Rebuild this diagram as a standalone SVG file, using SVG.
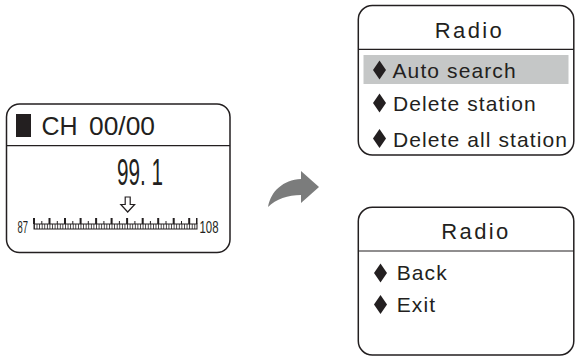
<svg xmlns="http://www.w3.org/2000/svg" width="575" height="357" viewBox="0 0 575 357">
  <style>
    .frame { fill: #ffffff; stroke: #231f20; stroke-width: 1.5; }
    .rule { stroke: #231f20; stroke-width: 1.2; }
    .txt { font-family: "Liberation Sans", Arial, sans-serif; fill: #231f20; }
    .item { font-size: 21px; letter-spacing: 1.1px; }
    .title { font-size: 22px; letter-spacing: 2.4px; text-anchor: middle; }
    .bullet { fill: #231f20; }
  </style>
  <defs>
    <path id="diamond" d="M0,-9.5 L6.5,0 L0,9.5 L-6.5,0 Z"/>
  </defs>

  <!-- FM tuning screen -->
  <g id="tuner-screen">
    <rect class="frame" x="6.5" y="104" width="223.5" height="148.5" rx="13"/>
    <line class="rule" x1="6.5" y1="145.7" x2="230" y2="145.7"/>
    <rect class="bullet" x="16" y="114" width="15" height="23"/>
    <text class="txt" x="41.5" y="135" font-size="25">CH</text>
    <text class="txt" x="89" y="135" font-size="26" textLength="66" lengthAdjust="spacingAndGlyphs">00/00</text>
    <text class="txt" x="117" y="185" font-size="36" textLength="46" lengthAdjust="spacingAndGlyphs">99. 1</text>
    <!-- hollow pointer arrow -->
    <path d="M125.2,197 L130.2,197 L130.2,204.5 L134.6,204.5 L127.7,212 L120.8,204.5 L125.2,204.5 Z" fill="#ffffff" stroke="#231f20" stroke-width="1.2"/>
    <text class="txt" x="17.5" y="232.8" font-size="16.5" textLength="10.5" lengthAdjust="spacingAndGlyphs">87</text>
    <text class="txt" x="199.5" y="232.8" font-size="16.5" textLength="19" lengthAdjust="spacingAndGlyphs">108</text>
    <!-- frequency scale -->
    <g id="scale">
      <rect x="34" y="224" width="163" height="5" fill="none" stroke="#231f20" stroke-width="1"/>
      <line x1="34" y1="226.5" x2="197" y2="226.5" stroke="#231f20" stroke-width="5" stroke-dasharray="0.8 1.787"/>
      <g fill="#231f20">
        <rect x="33" y="218" width="2" height="6"/>
        <rect x="48.5" y="218" width="2" height="6"/>
        <rect x="64" y="218" width="2" height="6"/>
        <rect x="79.6" y="218" width="2" height="6"/>
        <rect x="95.1" y="218" width="2" height="6"/>
        <rect x="110.6" y="218" width="2" height="6"/>
        <rect x="126.1" y="218" width="2" height="6"/>
        <rect x="141.7" y="218" width="2" height="6"/>
        <rect x="157.2" y="218" width="2" height="6"/>
        <rect x="172.7" y="218" width="2" height="6"/>
        <rect x="188.2" y="218" width="2" height="6"/>
        <rect x="196" y="218" width="1.5" height="6"/>
      </g>
      <g stroke="#231f20" stroke-width="1">
        <line x1="41.8" y1="221" x2="41.8" y2="224"/>
        <line x1="57.3" y1="221" x2="57.3" y2="224"/>
        <line x1="72.8" y1="221" x2="72.8" y2="224"/>
        <line x1="88.3" y1="221" x2="88.3" y2="224"/>
        <line x1="103.9" y1="221" x2="103.9" y2="224"/>
        <line x1="119.4" y1="221" x2="119.4" y2="224"/>
        <line x1="134.9" y1="221" x2="134.9" y2="224"/>
        <line x1="150.4" y1="221" x2="150.4" y2="224"/>
        <line x1="166" y1="221" x2="166" y2="224"/>
        <line x1="181.5" y1="221" x2="181.5" y2="224"/>
      </g>
    </g>
  </g>

  <!-- curved transition arrow -->
  <g id="connectors">
    <path d="M268,207 C271,191 283,180 301,179 L301,171 L319,187 L301,203 L301,195 C288,195 276,199 268,207 Z" fill="#7b7c7c"/>
  </g>

  <!-- Radio menu, page 1 -->
  <g id="radio-menu">
    <rect class="frame" x="358.3" y="5.5" width="215.5" height="149.5" rx="14"/>
    <line class="rule" x1="358.3" y1="49.3" x2="573.8" y2="49.3"/>
    <text class="txt title" x="469.5" y="37.7">Radio</text>
    <rect x="363.5" y="55" width="205" height="29" fill="#c5c7c7"/>
    <use href="#diamond" class="bullet" x="379.5" y="70"/>
    <text class="txt item" x="392.5" y="78.3">Auto search</text>
    <use href="#diamond" class="bullet" x="379.5" y="103"/>
    <text class="txt item" x="393" y="111">Delete station</text>
    <use href="#diamond" class="bullet" x="379.5" y="138.5"/>
    <text class="txt item" x="393" y="146.7">Delete all station</text>
  </g>

  <!-- Radio menu, page 2 -->
  <g id="radio-exit-menu">
    <rect class="frame" x="358.3" y="207.3" width="215.5" height="147.7" rx="14"/>
    <line class="rule" x1="358.3" y1="251" x2="573.8" y2="251"/>
    <text class="txt title" x="476" y="239.3">Radio</text>
    <use href="#diamond" class="bullet" x="380.5" y="273"/>
    <text class="txt item" x="396.7" y="280">Back</text>
    <use href="#diamond" class="bullet" x="380.5" y="304.5"/>
    <text class="txt item" x="396.7" y="311.7">Exit</text>
  </g>
</svg>
